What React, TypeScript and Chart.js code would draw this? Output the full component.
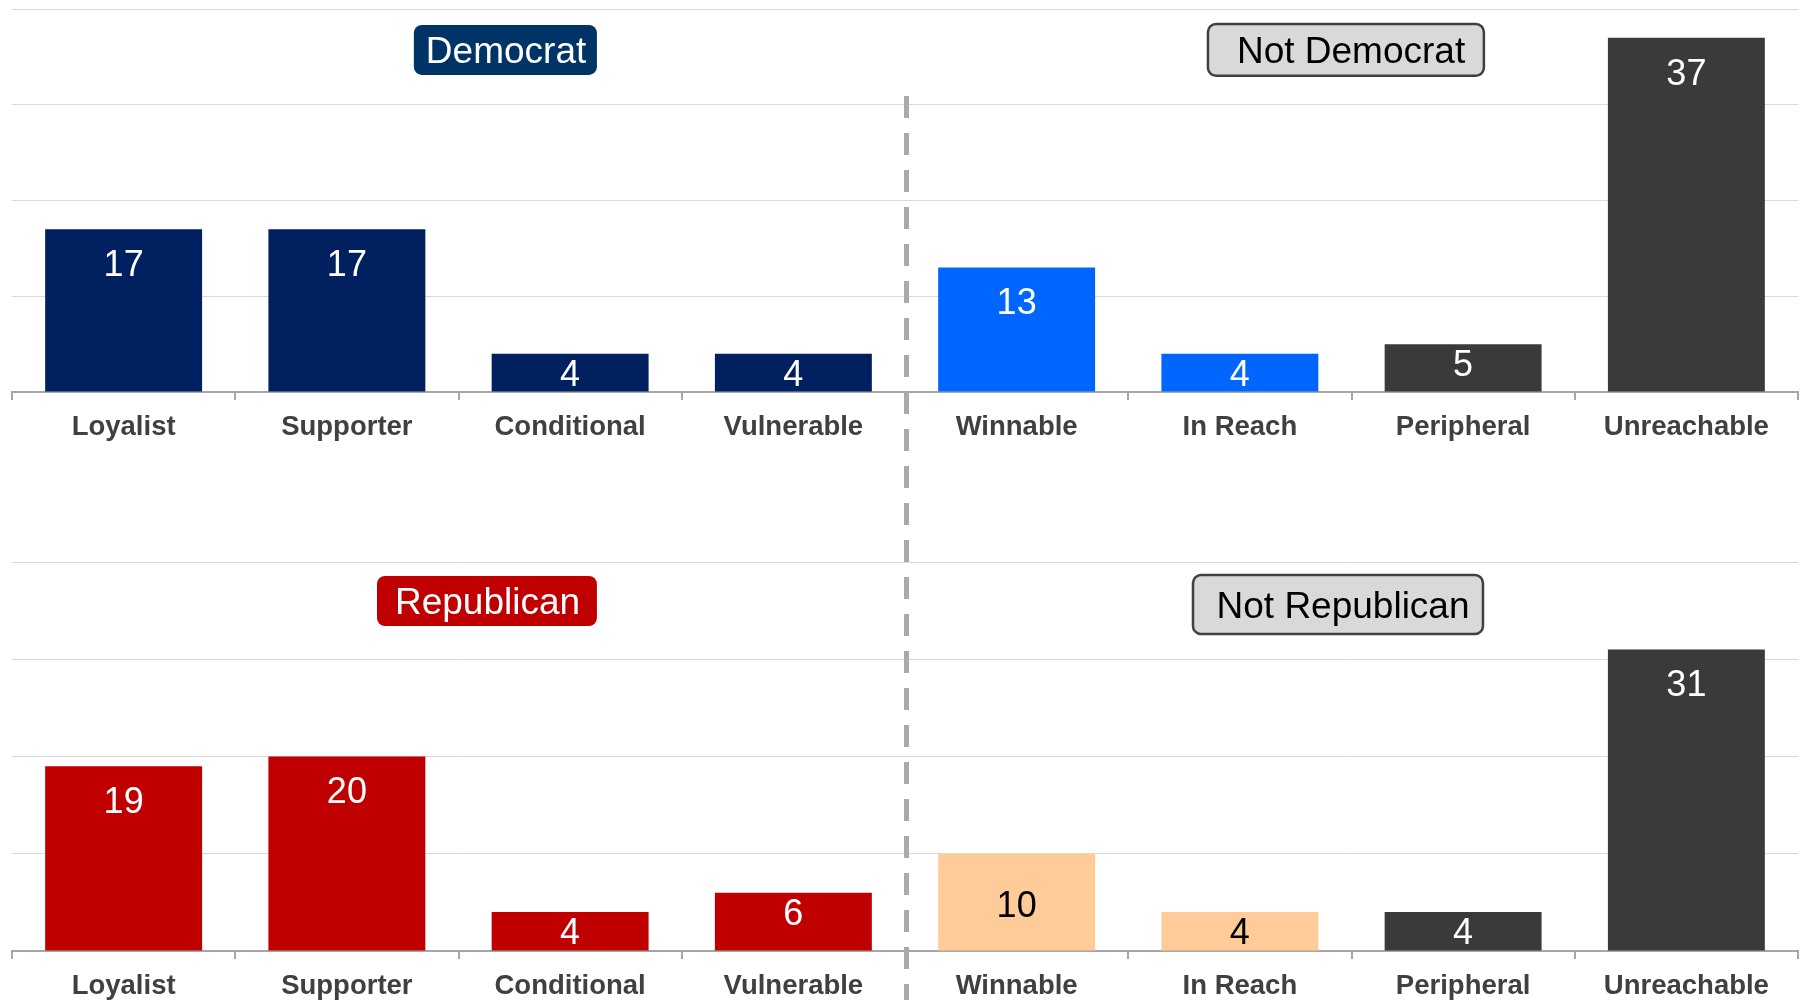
import React, { useEffect, useRef } from "react";
import { Chart, registerables } from "chart.js";

Chart.register(...registerables);

// ---------- data ----------
const categories = [
  "Loyalist",
  "Supporter",
  "Conditional",
  "Vulnerable",
  "Winnable",
  "In Reach",
  "Peripheral",
  "Unreachable",
];
const democratValues = [17, 17, 4, 4, 13, 4, 5, 37];
const republicanValues = [19, 20, 4, 6, 10, 4, 4, 31];
const yTickValues = [0, 10, 20, 30, 40];
const topBadgeLabels = ["Democrat", "Not Democrat"];
const bottomBadgeLabels = ["Republican", "Not Republican"];

// ---------- styles ----------
const NAVY = "#002060";
const BLUE = "#0066FF";
const DARK = "#3A3A3A";
const RED = "#C00000";
const PEACH = "#FFCC99";

const topColors = [NAVY, NAVY, NAVY, NAVY, BLUE, BLUE, DARK, DARK];
const bottomColors = [RED, RED, RED, RED, PEACH, PEACH, DARK, DARK];
const topLabelColors = ["#fff", "#fff", "#fff", "#fff", "#fff", "#fff", "#fff", "#fff"];
const bottomLabelColors = ["#fff", "#fff", "#fff", "#fff", "#000", "#000", "#fff", "#fff"];

const FONT = '"Liberation Sans", Arial, Helvetica, sans-serif';
Chart.defaults.font.family = FONT;

type Badge = {
  text: string;
  x0: number;
  x1: number;
  y0: number;
  y1: number;
  tx: number;
  fill: string;
  stroke: string | null;
  color: string;
};

const topBadges: Badge[] = [
  { text: topBadgeLabels[0], x0: 1.3, x1: 2.12, y0: 38.33, y1: 33.12, tx: 1.713, fill: "#003366", stroke: null, color: "#fff" },
  { text: topBadgeLabels[1], x0: 4.857, x1: 6.093, y0: 38.44, y1: 33.02, tx: 5.498, fill: "#D9D9D9", stroke: "#404040", color: "#000" },
];
const bottomBadges: Badge[] = [
  { text: bottomBadgeLabels[0], x0: 1.135, x1: 2.12, y0: 38.56, y1: 33.42, tx: 1.63, fill: RED, stroke: null, color: "#fff" },
  { text: bottomBadgeLabels[1], x0: 4.79, x1: 6.089, y0: 38.66, y1: 32.6, tx: 5.462, fill: "#D9D9D9", stroke: "#404040", color: "#000" },
];

// ---------- plugins ----------
const valueLabelPlugin = {
  id: "valueLabels",
  afterDatasetsDraw(chart: any, _args: any, opts: any) {
    const ctx = chart.ctx;
    const meta = chart.getDatasetMeta(0);
    const base = chart.scales.y.getPixelForValue(0);
    ctx.save();
    ctx.font = `36px ${FONT}`;
    ctx.textAlign = "center";
    ctx.textBaseline = "middle";
    meta.data.forEach((bar: any, i: number) => {
      const v = chart.data.datasets[0].data[i];
      const top = bar.y;
      const h = base - top;
      let cy: number;
      if (h > 110) cy = top + 37;
      else if (h > 80) cy = (top + base) / 2 + 5;
      else cy = top + 22;
      ctx.fillStyle = opts.colors[i];
      ctx.fillText(String(v), bar.x, cy);
    });
    ctx.restore();
  },
};

const badgePlugin = {
  id: "badges",
  afterDatasetsDraw(chart: any, _args: any, opts: any) {
    const ctx = chart.ctx;
    const xs = chart.scales.x;
    const ys = chart.scales.y;
    ctx.save();
    (opts.items as Badge[]).forEach((b) => {
      const x0 = xs.getPixelForValue(b.x0);
      const x1 = xs.getPixelForValue(b.x1);
      const y0 = ys.getPixelForValue(b.y0);
      const y1 = ys.getPixelForValue(b.y1);
      ctx.beginPath();
      ctx.roundRect(x0, y0, x1 - x0, y1 - y0, 8);
      ctx.fillStyle = b.fill;
      ctx.fill();
      if (b.stroke) {
        ctx.lineWidth = 2.5;
        ctx.strokeStyle = b.stroke;
        ctx.stroke();
      }
      ctx.fillStyle = b.color;
      ctx.font = `37px ${FONT}`;
      ctx.textAlign = "center";
      ctx.textBaseline = "middle";
      ctx.fillText(b.text, xs.getPixelForValue(b.tx), (y0 + y1) / 2 + 3);
    });
    ctx.restore();
  },
};

const dividerPlugin = {
  id: "divider",
  afterDraw(chart: any, _args: any, opts: any) {
    const ctx = chart.ctx;
    const x = chart.scales.x.getPixelForValue(3.5) + 1.5;
    ctx.save();
    ctx.strokeStyle = "#AAAAAA";
    ctx.lineWidth = 5;
    ctx.setLineDash([22, 15]);
    ctx.lineDashOffset = opts.offset;
    ctx.beginPath();
    ctx.moveTo(x, opts.start);
    ctx.lineTo(x, chart.height);
    ctx.stroke();
    ctx.restore();
  },
};

// ---------- panel ----------
type PanelProps = {
  values: number[];
  colors: string[];
  labelColors: string[];
  badges: Badge[];
  top: number;
  height: number;
  padTop: number;
  dashStart: number;
  dashOffset: number;
};

function Panel(p: PanelProps) {
  const ref = useRef<HTMLCanvasElement | null>(null);
  useEffect(() => {
    if (!ref.current) return;
    const chart = new Chart(ref.current, {
      type: "bar",
      data: {
        labels: categories,
        datasets: [
          {
            data: p.values,
            backgroundColor: p.colors,
            borderWidth: 0,
            barPercentage: 0.703,
            categoryPercentage: 1,
          },
        ],
      },
      options: {
        responsive: false,
        animation: false,
        layout: { padding: { left: 12, right: 10, top: p.padTop, bottom: 0 } },
        plugins: {
          legend: { display: false },
          tooltip: { enabled: false },
          valueLabels: { colors: p.labelColors },
          badges: { items: p.badges },
          divider: { start: p.dashStart, offset: p.dashOffset },
        } as any,
        scales: {
          x: {
            grid: {
              display: true,
              drawOnChartArea: false,
              drawTicks: true,
              tickLength: 8,
              color: "#A6A6A6",
              lineWidth: 2,
              offset: true,
            },
            border: { display: true, color: "#A6A6A6", width: 2 },
            ticks: {
              color: "#404040",
              font: { size: 27.5, weight: "bold" },
              padding: 11,
              maxRotation: 0,
              autoSkip: false,
            },
            afterFit: (s: any) => {
              s.height = 88;
            },
          },
          y: {
            min: yTickValues[0],
            max: yTickValues[yTickValues.length - 1],
            afterBuildTicks: (s: any) => {
              s.ticks = yTickValues.map((v) => ({ value: v }));
            },
            ticks: { display: false },
            grid: { color: "#D9D9D9", lineWidth: 1, drawTicks: false },
            border: { display: false },
          },
        },
      } as any,
      plugins: [valueLabelPlugin, badgePlugin, dividerPlugin],
    });
    return () => chart.destroy();
  }, []);
  return (
    <canvas
      ref={ref}
      width={1808}
      height={p.height}
      style={{ position: "absolute", left: 0, top: p.top, width: 1808, height: p.height }}
    />
  );
}

export default function App() {
  return (
    <div
      style={{
        position: "fixed",
        left: 0,
        top: 0,
        width: 1808,
        height: 1000,
        overflow: "hidden",
        background: "#ffffff",
      }}
    >
      <Panel
        values={democratValues}
        colors={topColors}
        labelColors={topLabelColors}
        badges={topBadges}
        top={0}
        height={480}
        padTop={9}
        dashStart={96}
        dashOffset={0}
      />
      <Panel
        values={republicanValues}
        colors={bottomColors}
        labelColors={bottomLabelColors}
        badges={bottomBadges}
        top={480}
        height={559}
        padTop={82}
        dashStart={0}
        dashOffset={14}
      />
    </div>
  );
}
